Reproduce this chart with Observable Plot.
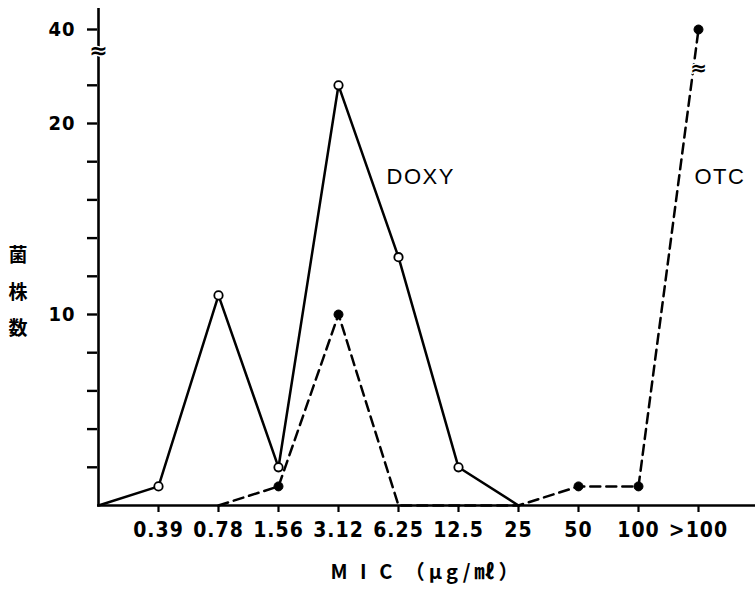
<!DOCTYPE html>
<html>
<head>
<meta charset="utf-8">
<script src="https://cdn.jsdelivr.net/npm/d3@7"></script>
<script src="https://cdn.jsdelivr.net/npm/@observablehq/plot@0.6"></script>
<style>
  html, body { margin: 0; padding: 0; background: #fff; }
  #chart svg { display: block; }
  .xax text { letter-spacing: 1px; }
  .yax text { letter-spacing: 1px; }
  .xlab text { letter-spacing: 4px; }
  .ann text { letter-spacing: 1.5px; }
</style>
</head>
<body>
<div id="chart"></div>
<script>
// MIC categories ("0" is the origin of the axis, not labelled)
const categories = ["0", "0.39", "0.78", "1.56", "3.12", "6.25", "12.5", "25", "50", "100", ">100"];
// Number of strains (菌株数)
const doxy = [0, 1, 11, 2, 22, 13, 2, 0, null, null, null];
const otc  = [null, null, 0, 1, 10, 0, 0, 0, 1, 1, 40];
const yTicks = [2, 4, 6, 8, 10, 12, 14, 16, 18, 20, 22, 40];
const yLabelled = [10, 20, 40];

const rows = categories.map((c, i) => ({c, doxy: doxy[i], otc: otc[i]}));
const doxyPts = rows.filter(d => d.doxy > 0);
const otcPts = rows.filter(d => d.otc > 0);

const FONT = "'Liberation Sans Narrow', 'DejaVu Sans Condensed', sans-serif";

const chart = Plot.plot({
  width: 755,
  height: 593,
  marginLeft: 97,
  marginRight: 0,
  marginTop: 8,
  marginBottom: 88,
  style: {fontFamily: FONT, color: "#000", background: "#fff"},
  x: {type: "point", domain: categories, range: [97, 699], padding: 0},
  y: {type: "linear", domain: [0, 24, 40, 46], range: [505, 46.6, 29, 8]},
  marks: [
    Plot.axisY({
      ticks: yTicks,
      tickFormat: d => yLabelled.includes(d) ? String(d) : "",
      tickSize: 10, tickPadding: 12, strokeWidth: 2.4,
      fontSize: 20, fontWeight: "bold", label: null, className: "yax"
    }),
    Plot.axisX({
      ticks: categories.slice(1),
      tickSize: 7, tickPadding: 10, strokeWidth: 2.2,
      fontSize: 21, fontWeight: "bold", label: null, className: "xax"
    }),
    Plot.ruleY([0], {stroke: "#000", strokeWidth: 2.6}),
    Plot.ruleX(["0"], {y1: 0, y2: 46, stroke: "#000", strokeWidth: 2.6}),
    // axis break mark
    Plot.text(["≈"], {x: () => "0", y: () => 24, dy: 4, fontSize: 22, fontWeight: "bold",
      fill: "#000", stroke: "#fff", strokeWidth: 3, fontFamily: "DejaVu Sans"}),
    Plot.line(rows, {x: "c", y: "doxy", stroke: "#000", strokeWidth: 2.5}),
    Plot.line(rows, {x: "c", y: "otc", stroke: "#000", strokeWidth: 2.5, strokeDasharray: "10,6"}),
    // break mark on the OTC line
    Plot.text(["≈"], {x: () => ">100", y: () => 23, dy: 2, fontSize: 20, fontWeight: "bold",
      fill: "#000", stroke: "#fff", strokeWidth: 3, fontFamily: "DejaVu Sans"}),
    Plot.dot(doxyPts, {x: "c", y: "doxy", r: 4.2, fill: "#fff", stroke: "#000", strokeWidth: 1.8}),
    Plot.dot(otcPts, {x: "c", y: "otc", r: 4.5, fill: "#000", stroke: "#000", strokeWidth: 1}),
    Plot.text(["DOXY"], {x: () => "6.25", y: () => 17.2, textAnchor: "start", dx: -12,
      fontSize: 22, fontFamily: "'Liberation Sans', Arial, sans-serif", className: "ann"}),
    Plot.text(["OTC"], {x: () => ">100", y: () => 17.2, textAnchor: "start", dx: -4,
      fontSize: 22, fontFamily: "'Liberation Sans', Arial, sans-serif", className: "ann"}),
    Plot.text(["菌\n株\n数"], {frameAnchor: "left", textAnchor: "start", dx: -89, dy: 30, lineHeight: 1.9,
      fontSize: 19, fontWeight: "bold", fontFamily: "'Noto Sans CJK JP', sans-serif"}),
    Plot.text(["M I C （μg/㎖）"], {frameAnchor: "bottom", dy: 73, fontSize: 20, fontWeight: "bold",
      fontFamily: "'Noto Sans CJK JP', 'DejaVu Sans', sans-serif", className: "xlab"})
  ]
});
document.getElementById("chart").appendChild(chart);
</script>
</body>
</html>
